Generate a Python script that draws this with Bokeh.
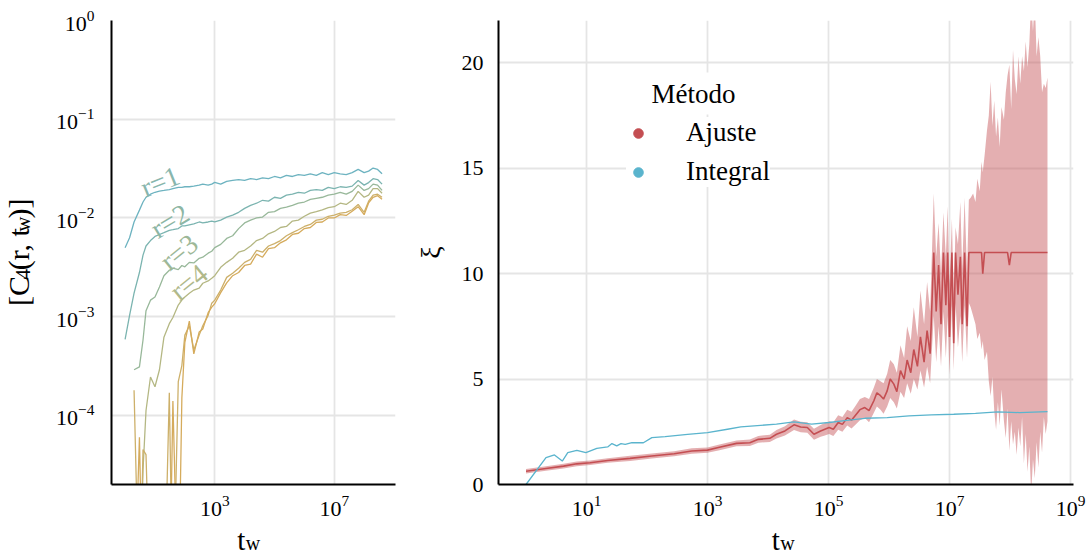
import numpy as np
from bokeh.plotting import figure
from bokeh.models import Range1d, FixedTicker, LogTickFormatter, Label, Legend, LegendItem
from bokeh.layouts import row, column
from bokeh.core.properties import value
from bokeh.embed import file_html
from bokeh.resources import INLINE

FONT = "Liberation Serif"

# ---------------- left panel data: C4(r, t_w) ----------------
c4_exp = [0, 0.15, 0.3, 0.48, 0.6, 0.7, 0.85,
          1.0, 1.15, 1.3, 1.48, 1.6, 1.78, 1.9,
          2.0, 2.15, 2.3, 2.48, 2.6, 2.78, 2.9,
          3.0, 3.2, 3.4, 3.6, 3.8,
          4.0, 4.2, 4.4, 4.6, 4.8,
          5.0, 5.2, 5.4, 5.6, 5.8,
          6.0, 6.2, 6.4, 6.6, 6.8,
          7.0, 7.2, 7.4, 7.6, 7.8,
          8.0, 8.15, 8.3, 8.45, 8.6]
nan = float("nan")
c4_r1 = [5.0e-3, 6.3e-3, 9.1e-3, 1.20e-2, 1.45e-2, 1.62e-2, 1.74e-2,
         1.82e-2, 1.87e-2, 1.90e-2, 1.94e-2, 1.98e-2, 2.04e-2, 2.04e-2,
         2.07e-2, 2.07e-2, 2.10e-2, 2.15e-2, 2.20e-2, 2.15e-2, 2.20e-2,
         2.29e-2, 2.20e-2, 2.35e-2, 2.40e-2, 2.45e-2,
         2.40e-2, 2.50e-2, 2.45e-2, 2.55e-2, 2.50e-2,
         2.63e-2, 2.55e-2, 2.70e-2, 2.63e-2, 2.75e-2,
         2.70e-2, 2.80e-2, 2.70e-2, 2.88e-2, 2.75e-2,
         2.88e-2, 2.80e-2, 2.75e-2, 2.88e-2, 3.10e-2,
         2.88e-2, 2.98e-2, 3.20e-2, 3.10e-2, 2.80e-2]
c4_r2 = [5.9e-4, 1.03e-3, 1.73e-3, 2.8e-3, 4.2e-3, 5.2e-3, 5.9e-3,
         6.5e-3, 6.8e-3, 7.1e-3, 7.5e-3, 7.6e-3, 7.8e-3, 8.3e-3,
         8.3e-3, 8.5e-3, 8.7e-3, 9.1e-3, 8.9e-3, 9.1e-3, 9.3e-3,
         9.1e-3, 9.5e-3, 1.02e-2, 1.07e-2, 1.14e-2,
         1.25e-2, 1.34e-2, 1.41e-2, 1.51e-2, 1.48e-2,
         1.62e-2, 1.58e-2, 1.70e-2, 1.74e-2, 1.82e-2,
         1.78e-2, 1.90e-2, 1.94e-2, 1.90e-2, 2.04e-2,
         1.98e-2, 2.07e-2, 2.04e-2, 2.10e-2, 2.40e-2,
         2.15e-2, 2.28e-2, 2.50e-2, 2.45e-2, 2.20e-2]
c4_r3 = [nan, nan, 2.9e-4, 3.1e-4, 5.8e-4, 1.15e-3, 1.47e-3,
         1.58e-3, 2.0e-3, 2.6e-3, 2.95e-3, 3.1e-3, 3.0e-3, 3.3e-3,
         3.2e-3, 3.55e-3, 3.5e-3, 3.9e-3, 4.0e-3, 4.4e-3, 4.6e-3,
         5.0e-3, 5.4e-3, 6.2e-3, 6.6e-3, 7.8e-3,
         8.9e-3, 9.5e-3, 1.0e-2, 1.02e-2, 1.14e-2,
         1.16e-2, 1.25e-2, 1.29e-2, 1.34e-2, 1.41e-2,
         1.45e-2, 1.54e-2, 1.58e-2, 1.62e-2, 1.70e-2,
         1.74e-2, 1.82e-2, 1.74e-2, 1.86e-2, 2.15e-2,
         1.90e-2, 1.98e-2, 2.20e-2, 2.15e-2, 1.90e-2]
c4_r4 = [nan, nan, nan, 1e-6, 2.8e-5, 1.12e-4, 2.45e-4,
         1.95e-4, 2.9e-4, 6.2e-4, 8.5e-4, 9.8e-4, 1.31e-3, 1.47e-3,
         1.58e-3, 1.73e-3, 1.86e-3, 1.95e-3, 2.18e-3, 2.3e-3, 2.45e-3,
         2.6e-3, 3.16e-3, 3.55e-3, 3.9e-3, 4.5e-3,
         4.7e-3, 5.2e-3, 5.9e-3, 6.2e-3, 6.9e-3,
         7.3e-3, 8.0e-3, 8.2e-3, 9.3e-3, 9.5e-3,
         1.04e-2, 1.12e-2, 1.16e-2, 1.21e-2, 1.27e-2,
         1.30e-2, 1.41e-2, 1.37e-2, 1.51e-2, 1.86e-2,
         1.62e-2, 1.70e-2, 1.98e-2, 1.98e-2, 1.78e-2]
c4_r5 = [nan, nan, 1.8e-4, 1e-6, 4.5e-5, 4.0e-5, 1e-6,
         1e-6, 1e-6, 1e-6, 1.7e-4, 1e-6, 2.2e-4, 3.2e-4,
         6.5e-4, 8.1e-4, 4.6e-4, 6.5e-4, 8.1e-4, 1.03e-3, 1.37e-3,
         1.47e-3, 1.86e-3, 2.5e-3, 2.75e-3, 3.1e-3,
         3.55e-3, 3.8e-3, 4.7e-3, 4.5e-3, 5.2e-3,
         5.5e-3, 5.9e-3, 6.6e-3, 7.1e-3, 7.6e-3,
         8.2e-3, 8.6e-3, 9.5e-3, 9.7e-3, 1.04e-2,
         1.07e-2, 1.12e-2, 1.14e-2, 1.21e-2, 1.37e-2,
         1.14e-2, 1.48e-2, 1.70e-2, 1.74e-2, 1.62e-2]
c4_r6 = [nan, nan, 1e-6, 6.0e-5, 1e-6, 1e-6, 1e-6,
         1e-6, 1e-6, 1e-6, 1e-6, 1.4e-4, 1e-6, 1.5e-4,
         5.5e-4, 9.0e-4, 4.2e-4, 7.0e-4, 7.5e-4, 1.1e-3, 1.25e-3,
         1.35e-3, 1.75e-3, 2.2e-3, 2.6e-3, 2.8e-3,
         3.3e-3, 3.4e-3, 4.3e-3, 4.0e-3, 4.9e-3,
         5.0e-3, 5.6e-3, 6.0e-3, 6.8e-3, 7.0e-3,
         7.8e-3, 8.0e-3, 9.0e-3, 9.1e-3, 1.0e-2,
         1.0e-2, 1.08e-2, 1.06e-2, 1.17e-2, 1.30e-2,
         1.08e-2, 1.42e-2, 1.62e-2, 1.68e-2, 1.55e-2]
c4_series = [c4_r1, c4_r2, c4_r3, c4_r4, c4_r5, c4_r6]
c4_colors = ["#6db3c0", "#7bb4b0", "#98b89a", "#b4b783", "#cdb06a", "#d5ab5c"]

r_label_text = ["r=1", "r=2", "r=3", "r=4"]
r_label_tw = [14.8, 31.6, 63.0, 135.0]
r_label_c4 = [0.0234, 0.0093, 0.0045, 0.00224]
r_label_angle_deg = [22, 31, 39, 39]
r_label_colors = ["#88b6ad", "#8db6a4", "#9db898", "#b0b98b"]

left_x_ticks = [1e3, 1e7]
left_y_ticks = [1e-4, 1e-3, 1e-2, 1e-1, 1.0]

# ---------------- right panel data: xi(t_w) ----------------
integ_exp = [0.0, 0.33, 0.47, 0.6, 0.69, 0.84, 0.99, 1.17, 1.35, 1.42,
             1.5, 1.57, 1.64, 1.75, 1.94, 2.08, 2.3, 2.67, 3.0, 3.33,
             3.55, 3.77, 4.14, 4.43, 4.72, 5.01, 5.23, 5.6, 5.97, 6.33,
             6.7, 7.07, 7.43, 7.8, 8.16, 8.62]
integ_xi = [0.0, 1.27, 1.40, 1.11, 1.51, 1.62, 1.51, 1.71, 1.78, 1.94,
            1.83, 1.94, 1.90, 1.98, 1.98, 2.22, 2.27, 2.38, 2.46, 2.62,
            2.73, 2.78, 2.86, 2.97, 2.86, 2.94, 3.02, 3.14, 3.17, 3.25,
            3.30, 3.33, 3.37, 3.44, 3.41, 3.46]

aj_exp = [0.0, 0.33, 0.62, 0.84, 1.06, 1.35, 1.72, 2.08, 2.45, 2.74,
          3.0, 3.18, 3.48, 3.70, 3.84, 4.03, 4.14, 4.28, 4.43, 4.54,
          4.65, 4.76, 4.87, 4.94, 5.01, 5.08, 5.16, 5.23, 5.31, 5.38,
          5.45, 5.52, 5.60, 5.67, 5.75, 5.80, 5.86, 5.91, 5.97, 6.02,
          6.08, 6.13, 6.19, 6.25, 6.30, 6.36, 6.41, 6.47, 6.52, 6.58,
          6.63, 6.68, 6.74, 6.78, 6.82, 6.86, 6.90, 6.94, 6.97, 7.00,
          7.04, 7.07, 7.10, 7.14, 7.18, 7.21, 7.25, 7.29, 7.32, 7.35,
          7.39, 7.43, 7.46, 7.50, 7.53, 7.55, 7.58, 7.62, 7.65, 7.68,
          7.71, 7.74, 7.77, 7.80, 7.83, 7.86, 7.90, 7.93, 7.96, 7.99,
          8.02, 8.05, 8.08, 8.11, 8.14, 8.17, 8.20, 8.23, 8.26, 8.29,
          8.32, 8.35, 8.38, 8.41, 8.44, 8.47, 8.50, 8.53, 8.56, 8.59,
          8.62]
aj_xi = [0.63, 0.76, 0.87, 0.98, 1.03, 1.14, 1.24, 1.35, 1.46, 1.59,
         1.63, 1.75, 1.95, 1.98, 2.14, 2.19, 2.38, 2.54, 2.83, 2.73,
         2.70, 2.38, 2.54, 2.62, 2.70, 2.62, 2.94, 2.85, 3.17, 3.05,
         3.30, 3.55, 3.65, 3.50, 3.97, 4.35, 4.21, 4.05, 4.44, 5.00,
         4.76, 4.40, 5.4, 5.0, 5.9, 5.3, 6.4, 5.6, 7.0, 5.8,
         7.3, 6.2, 11.0, 8.2, 10.4, 7.6, 11.0, 8.5, 11.0, 7.0,
         11.0, 6.7, 11.0, 9.0, 10.8, 7.6, 11.0, 7.5, 11.0, 11.0,
         11.0, 11.0, 11.0, 11.0, 11.0, 10.0, 11.0, 11.0, 11.0, 11.0,
         11.0, 11.0, 11.0, 11.0, 11.0, 11.0, 11.0, 11.0, 11.0, 10.4,
         11.0, 11.0, 11.0, 11.0, 11.0, 11.0, 11.0, 11.0, 11.0, 11.0,
         11.0, 11.0, 11.0, 11.0, 11.0, 11.0, 11.0, 11.0, 11.0, 11.0,
         11.0]
aj_lo = [0.52, 0.65, 0.76, 0.87, 0.92, 1.03, 1.12, 1.23, 1.34, 1.46,
         1.50, 1.61, 1.81, 1.83, 1.98, 2.02, 2.18, 2.32, 2.58, 2.48,
         2.45, 2.12, 2.26, 2.32, 2.40, 2.30, 2.60, 2.50, 2.80, 2.65,
         2.85, 3.05, 3.15, 2.95, 3.40, 3.70, 3.55, 3.35, 3.70, 4.10,
         3.90, 3.60, 4.4, 4.1, 4.8, 4.3, 5.0, 4.5, 5.4, 4.6,
         5.6, 4.8, 8.0, 5.8, 7.5, 5.6, 8.2, 6.0, 8.0, 5.2,
         8.5, 5.4, 8.6, 6.5, 8.0, 5.8, 8.5, 6.0, 8.6, 8.4,
         8.0, 7.6, 6.9, 7.2, 6.4, 6.8, 5.9, 6.3, 4.9, 4.2,
         5.1, 3.5, 2.6, 3.9, 2.8, 4.5, 3.0, 2.2, 3.6, 1.6,
         3.0, 1.9, 2.5, 1.4, 2.7, 1.8, 3.2, 1.0, 2.4, 0.6,
         1.8, -0.5, 1.2, 0.3, 2.0, 0.8, 2.5, 1.5, 3.2, 2.4,
         3.0]
aj_hi = [0.74, 0.87, 0.98, 1.09, 1.14, 1.25, 1.36, 1.47, 1.58, 1.72,
         1.76, 1.89, 2.09, 2.13, 2.30, 2.36, 2.58, 2.76, 3.08, 2.98,
         2.95, 2.64, 2.82, 2.92, 3.00, 2.95, 3.28, 3.20, 3.55, 3.45,
         3.75, 4.05, 4.15, 4.05, 4.60, 5.00, 4.90, 4.80, 5.25, 5.90,
         5.70, 5.30, 6.6, 6.0, 7.5, 6.8, 8.4, 7.0, 9.2, 7.6,
         9.6, 8.2, 13.8, 10.8, 12.4, 10.0, 12.9, 10.8, 13.2, 9.5,
         12.6, 9.0, 12.2, 11.4, 13.4, 10.2, 13.6, 10.0, 13.5, 13.6,
         13.8, 13.4, 14.5, 13.9, 15.3, 14.8, 15.6, 16.8, 17.5, 19.1,
         17.0, 18.2, 16.5, 17.4, 16.0, 17.9, 17.3, 18.6, 19.4, 19.9,
         17.8, 20.6, 19.2, 18.5, 20.3, 19.0, 20.3, 19.6, 21.0, 19.8,
         20.9, 23.0, 21.5, 23.0, 20.3, 21.2, 20.3, 18.6, 19.0, 18.8,
         19.3]
assert len(aj_exp) == len(aj_xi) == len(aj_lo) == len(aj_hi)
assert len(integ_exp) == len(integ_xi)

right_x_ticks = [1e1, 1e3, 1e5, 1e7, 1e9]
right_y_ticks = [0, 5, 10, 15, 20]
legend_title = "Método"
legend_labels = ["Ajuste", "Integral"]
method_colors = ["#c44e52", "#5ab4cd"]
band_color = "#c44e52"

X_RANGE = (10 ** -0.455, 10 ** 9.05)

# ---------------- layout geometry (canvas pixels) ----------------
YL_W = 53                # strip holding the composed y label of the left panel
W1, W2 = 355, 682
TOP_H = 524              # height of the plotting row
XL_H = 35                # strip holding the composed x labels
B1 = dict(left=54, right=13, top=20, bottom=40)
B2 = dict(left=90, right=17, top=20, bottom=40)

# Times-compatible advance widths (em) for composing labels with subscripts
ADV = {'[': 0.333, 'C': 0.667, '4': 0.5, '(': 0.333, 'r': 0.333, ',': 0.25,
       ' ': 0.25, 't': 0.278, 'w': 0.722, ')': 0.333, ']': 0.333}
MAIN, SUB, SUB_DROP = 30, 21, 4
XMAIN, XSUB = 29, 20


def text_w(s, size):
    return sum(ADV.get(ch, 0.5) for ch in s) * size


def style(p):
    for ax in (p.xaxis[0], p.yaxis[0]):
        ax.axis_line_color = "#000000"
        ax.axis_line_width = 2
        ax.major_tick_line_color = None
        ax.minor_tick_line_color = None
        ax.major_label_text_font = FONT
        ax.major_label_text_font_size = "22px"
        ax.major_label_text_color = "#000000"
    p.grid.grid_line_color = "#e5e5e5"
    p.grid.grid_line_width = 1.8
    p.outline_line_color = None
    p.background_fill_color = "white"
    p.border_fill_color = "white"


def blank(width, height):
    p = figure(width=width, height=height, x_range=Range1d(0, width), y_range=Range1d(0, height),
               x_axis_location=None, y_axis_location=None, output_backend="svg",
               toolbar_location=None, min_border=0)
    p.outline_line_color = None
    p.grid.visible = False
    p.border_fill_color = "white"
    p.background_fill_color = "white"
    return p


# ---------------- left figure ----------------
p1 = figure(width=W1, height=TOP_H, x_axis_type="log", y_axis_type="log",
            x_range=Range1d(*X_RANGE), y_range=Range1d(10 ** -4.7, 1.0),
            output_backend="svg", toolbar_location=None,
            min_border_left=B1["left"], min_border_right=B1["right"],
            min_border_top=B1["top"], min_border_bottom=B1["bottom"])
style(p1)
p1.xaxis.ticker = FixedTicker(ticks=left_x_ticks)
p1.yaxis.ticker = FixedTicker(ticks=left_y_ticks)
p1.xaxis.formatter = LogTickFormatter()
p1.yaxis.formatter = LogTickFormatter()
p1.xaxis.major_label_standoff = 5
p1.yaxis.major_label_standoff = 11

tw_c4 = 10 ** np.array(c4_exp)
for ys, col in zip(c4_series, c4_colors):
    p1.line(tw_c4, np.array(ys), line_color=col, line_width=1.3)

for t, xv, yv, ang, col in zip(r_label_text, r_label_tw, r_label_c4, r_label_angle_deg, r_label_colors):
    p1.add_layout(Label(x=xv, y=yv, text=t, angle=np.deg2rad(ang), text_font=FONT,
                        text_font_size="28px", text_align="center", text_baseline="middle",
                        text_color=col))

# ---------------- right figure ----------------
p2 = figure(width=W2, height=TOP_H, x_axis_type="log",
            x_range=Range1d(*X_RANGE), y_range=Range1d(0, 22),
            output_backend="svg", toolbar_location=None,
            min_border_left=B2["left"], min_border_right=B2["right"],
            min_border_top=B2["top"], min_border_bottom=B2["bottom"])
style(p2)
p2.xaxis.ticker = FixedTicker(ticks=right_x_ticks)
p2.yaxis.ticker = FixedTicker(ticks=right_y_ticks)
p2.xaxis.formatter = LogTickFormatter()
p2.xaxis.major_label_standoff = 5
p2.yaxis.major_label_standoff = 9
p2.yaxis.axis_label = "ξ"
p2.yaxis.axis_label_text_font = FONT
p2.yaxis.axis_label_text_font_size = "28px"
p2.yaxis.axis_label_text_font_style = "normal"
p2.yaxis.axis_label_text_color = "#000000"
p2.yaxis.axis_label_standoff = 13

tw_aj = 10 ** np.array(aj_exp)
tw_in = 10 ** np.array(integ_exp)
p2.varea(x=tw_aj, y1=np.array(aj_lo), y2=np.array(aj_hi), fill_color=band_color, fill_alpha=0.45)
p2.line(tw_aj, np.array(aj_xi), line_color=method_colors[0], line_width=1.6)
p2.line(tw_in, np.array(integ_xi), line_color=method_colors[1], line_width=1.3)

# legend glyph carriers (a single NaN point, never drawn in the frame)
dot_a = p2.scatter(x=[nan], y=[nan], marker="circle", size=10, color=method_colors[0])
dot_i = p2.scatter(x=[nan], y=[nan], marker="circle", size=10, color=method_colors[1])
legend = Legend(items=[LegendItem(label=legend_labels[0], renderers=[dot_a]),
                       LegendItem(label=legend_labels[1], renderers=[dot_i])],
                location=(128, 297), padding=14, margin=0, spacing=8,
                glyph_width=24, glyph_height=24, label_height=30, label_standoff=36,
                label_text_font=FONT, label_text_font_size="27px", label_text_color="#000000",
                background_fill_color="white", background_fill_alpha=1.0,
                border_line_color=None)
p2.add_layout(legend, "center")
p2.add_layout(Label(x=147, y=391, x_units="screen", y_units="screen", text=legend_title,
                    text_font=FONT, text_font_size="27px", text_align="left",
                    text_baseline="middle", text_color="#000000",
                    background_fill_color="white", background_fill_alpha=1.0, padding=6))

# ---------------- composed axis labels with subscripts ----------------
# y label of the left panel, reading upwards
py = blank(YL_W, TOP_H)
pieces = [("[C", MAIN, 0), ("4", SUB, SUB_DROP), ("(r, t", MAIN, 0), ("w", SUB, SUB_DROP), (")]", MAIN, 0)]
total = sum(text_w(s, sz) for s, sz, _ in pieces)
frame_mid_y = TOP_H - B1["top"] - (TOP_H - B1["top"] - B1["bottom"]) / 2
ypos = frame_mid_y - total / 2 - 11
for s, sz, drop in pieces:
    py.text(x=[18 + drop], y=[ypos], text=[s], angle=np.pi / 2, text_font=value(FONT),
            text_font_size=f"{sz}px", text_align="left", text_baseline="alphabetic",
            text_color="#000000")
    ypos += text_w(s, sz)

# x labels t_w below both panels
px = blank(YL_W + W1 + W2, XL_H)
centers = [YL_W + B1["left"] + (W1 - B1["left"] - B1["right"]) / 2,
           YL_W + W1 + B2["left"] + (W2 - B2["left"] - B2["right"]) / 2]
tw_main = text_w("t", XMAIN)
tot_t = tw_main + text_w("w", XSUB)
for c in centers:
    x0 = c - tot_t / 2 - 3
    px.text(x=[x0], y=[19.5], text=["t"], text_font=value(FONT), text_font_size=f"{XMAIN}px",
            text_align="left", text_baseline="alphabetic", text_color="#000000")
    px.text(x=[x0 + tw_main + 0.5], y=[16.5], text=["w"], text_font=value(FONT),
            text_font_size=f"{XSUB}px", text_align="left", text_baseline="alphabetic",
            text_color="#000000")

layout = column(row(py, p1, p2), px)
open("out.html", "w").write(file_html(layout, INLINE))
